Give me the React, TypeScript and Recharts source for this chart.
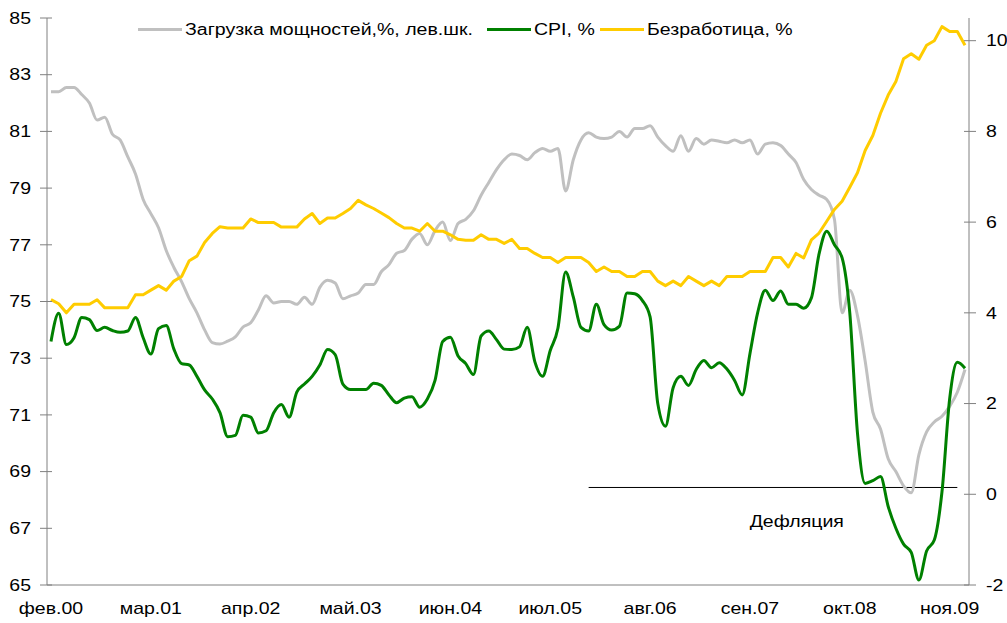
import { Legend, Line, LineChart, ReferenceLine, XAxis, YAxis } from "recharts";

const MONTH_NAMES = ["янв", "фев", "мар", "апр", "май", "июн", "июл", "авг", "сен", "окт", "ноя", "дек"];
// monthly, Feb 2000 .. Jan 2010
const MONTHS = Array.from({ length: 120 }, (_, i) => {
  const m = (1 + i) % 12;
  const y = 2000 + Math.floor((1 + i) / 12);
  return `${MONTH_NAMES[m]}.${String(y % 100).padStart(2, "0")}`;
});
const X_TICKS = ["фев.00", "мар.01", "апр.02", "май.03", "июн.04", "июл.05", "авг.06", "сен.07", "окт.08", "ноя.09"];
const LEFT_TICKS = [65, 67, 69, 71, 73, 75, 77, 79, 81, 83, 85];
const RIGHT_TICKS = [-2, 0, 2, 4, 6, 8, 10];

// capacity utilisation, % (left scale)
const UTIL = [
  82.4, 82.4, 82.55, 82.55, 82.3, 82.0, 81.4, 81.5, 80.9, 80.7, 80.1, 79.5,
  78.6, 78.1, 77.6, 76.8, 76.2, 75.7, 75.1, 74.6, 74.0, 73.55, 73.5, 73.6,
  73.75, 74.1, 74.25, 74.7, 75.2, 74.95, 75.0, 75.0, 74.9, 75.15, 74.9, 75.5,
  75.75, 75.65, 75.1, 75.2, 75.3, 75.6, 75.6, 76.05, 76.3, 76.7, 76.8, 77.2,
  77.4, 77.0, 77.5, 77.8, 77.15, 77.75, 77.9, 78.2, 78.75, 79.2, 79.65, 80.0,
  80.2, 80.15, 80.0, 80.25, 80.4, 80.3, 80.4, 78.9, 80.0, 80.7, 80.95, 80.8,
  80.75, 80.8, 81.0, 80.8, 81.1, 81.1, 81.2, 80.8, 80.5, 80.3, 80.85, 80.3,
  80.75, 80.55, 80.7, 80.65, 80.6, 80.7, 80.6, 80.7, 80.2, 80.55, 80.6, 80.5,
  80.2, 79.9, 79.3, 78.95, 78.75, 78.6, 77.9, 74.6, 75.4, 74.5, 72.9, 71.1,
  70.5, 69.45, 69.0, 68.5, 68.25, 69.6, 70.4, 70.75, 70.95, 71.3, 71.8, 72.6,
];

// CPI, % y/y (right scale)
const CPI = [
  3.37, 3.99, 3.3, 3.45, 3.9, 3.85, 3.61, 3.68, 3.61, 3.57, 3.6, 3.9,
  3.45, 3.09, 3.65, 3.72, 3.2, 2.88, 2.85, 2.6, 2.3, 2.1, 1.8, 1.27,
  1.3, 1.74, 1.7, 1.35, 1.4, 1.8, 1.98, 1.7, 2.25, 2.43, 2.6, 2.85,
  3.19, 3.08, 2.43, 2.31, 2.31, 2.31, 2.45, 2.4, 2.19, 2.02, 2.12, 2.15,
  1.92, 2.1, 2.51, 3.37, 3.46, 3.05, 2.88, 2.64, 3.49, 3.6, 3.41, 3.2,
  3.19, 3.25, 3.68, 2.92, 2.6, 3.17, 3.66, 4.9, 4.35, 3.68, 3.6, 4.19,
  3.74, 3.62, 3.7, 4.44, 4.42, 4.27, 3.91, 2.0, 1.5, 2.35, 2.6, 2.4,
  2.75, 2.95, 2.79, 2.9, 2.76, 2.51, 2.19, 3.1, 4.0, 4.5, 4.27, 4.48,
  4.19, 4.19, 4.1, 4.33, 5.3, 5.8, 5.5, 5.21, 4.0, 1.35, 0.24, 0.3,
  0.39, -0.27, -0.75, -1.1, -1.28, -1.89, -1.25, -1.01, 0.05, 2.1, 2.91, 2.78,
];

// unemployment, % (right scale)
const UNEMP = [
  4.29, 4.2, 4.0, 4.19, 4.19, 4.19, 4.29, 4.11, 4.11, 4.11, 4.11, 4.4,
  4.4, 4.5, 4.6, 4.5, 4.7, 4.8, 5.15, 5.25, 5.55, 5.75, 5.9, 5.87,
  5.87, 5.87, 6.07, 5.99, 5.99, 5.99, 5.89, 5.89, 5.89, 6.07, 6.19, 5.97,
  6.09, 6.09, 6.19, 6.3, 6.48, 6.38, 6.3, 6.2, 6.1, 5.97, 5.87, 5.87,
  5.8, 5.97, 5.8, 5.8, 5.72, 5.62, 5.6, 5.6, 5.72, 5.62, 5.62, 5.53,
  5.62, 5.42, 5.42, 5.31, 5.22, 5.22, 5.11, 5.22, 5.22, 5.22, 5.11, 4.91,
  5.01, 4.91, 4.91, 4.8, 4.8, 4.91, 4.91, 4.7, 4.6, 4.7, 4.6, 4.8,
  4.7, 4.6, 4.7, 4.6, 4.8, 4.8, 4.8, 4.91, 4.91, 4.91, 5.22, 5.22,
  5.01, 5.31, 5.21, 5.61, 5.76, 6.02, 6.28, 6.46, 6.77, 7.09, 7.58, 7.91,
  8.4, 8.8, 9.1, 9.6, 9.71, 9.59, 9.9, 10.0, 10.31, 10.2, 10.2, 9.9,
];

const DEFLATION_LEVEL = 0.15;
const DEFLATION_FROM = "дек.05";
const DEFLATION_TO = "дек.09";

const data = MONTHS.map((m, i) => ({ m, util: UTIL[i], cpi: CPI[i], unemp: UNEMP[i] }));

const FONT = "'Liberation Sans', Arial, sans-serif";
const STRETCH = 1.22;
const AXIS = "#808080";

function SText({ x, y, anchor = "start", children }: any) {
  return (
    <g transform={`translate(${x},${y}) scale(${STRETCH},1)`}>
      <text x={0} y={0} textAnchor={anchor} fontFamily={FONT} fontSize={16} fill="#000">
        {children}
      </text>
    </g>
  );
}

function LeftTick({ x, y, payload }: any) {
  const ax = x + 16;
  return (
    <g>
      <line x1={ax - 7} x2={ax + 5} y1={y} y2={y} stroke={AXIS} />
      <SText x={x} y={y + 5.7} anchor="end">{payload.value}</SText>
    </g>
  );
}

function RightTick({ x, y, payload }: any) {
  const ax = x - 17;
  return (
    <g>
      <line x1={ax - 5} x2={ax + 7} y1={y} y2={y} stroke={AXIS} />
      <SText x={x} y={y + 5.7} anchor="start">{payload.value}</SText>
    </g>
  );
}

function BottomTick({ x, y, payload }: any) {
  return <SText x={x} y={y + 21} anchor="middle">{payload.value}</SText>;
}

const LEGEND_ITEMS = [
  { label: "Загрузка мощностей,%, лев.шк.", color: "#c0c0c0", left: 138 },
  { label: "CPI, %", color: "#008000", left: 487 },
  { label: "Безработица, %", color: "#ffcc00", left: 600 },
];

function ChartLegend() {
  return (
    <div style={{ position: "relative", height: 22, width: 1007 }}>
      {LEGEND_ITEMS.map((it) => (
        <div key={it.label} style={{ position: "absolute", left: it.left, top: 0, height: 22 }}>
          <div style={{ position: "absolute", left: 0, top: 9, width: 44, height: 3, background: it.color }} />
          <div
            style={{
              position: "absolute",
              left: 47,
              top: 1,
              whiteSpace: "nowrap",
              fontFamily: FONT,
              fontSize: 16,
              lineHeight: "20px",
              color: "#000",
              transform: `scaleX(${STRETCH})`,
              transformOrigin: "left center",
            }}
          >
            {it.label}
          </div>
        </div>
      ))}
    </div>
  );
}

export default function App() {
  return (
    <div style={{ position: "absolute", left: 0, top: 0, width: 1007, height: 623, background: "#fff" }}>
      <LineChart width={1007} height={623} data={data} margin={{ top: 18, right: 0, bottom: 0, left: 0 }}>
        <XAxis
          dataKey="m"
          ticks={X_TICKS}
          interval={0}
          padding={{ left: 4, right: 4 }}
          height={38}
          axisLine={{ stroke: AXIS }}
          tickLine={false}
          tick={<BottomTick />}
        />
        <YAxis
          yAxisId="left"
          domain={[65, 85]}
          ticks={LEFT_TICKS}
          width={47}
          tickSize={7}
          tickMargin={9}
          axisLine={{ stroke: AXIS }}
          tickLine={false}
          tick={<LeftTick />}
        />
        <YAxis
          yAxisId="right"
          orientation="right"
          domain={[-2, 10.5]}
          ticks={RIGHT_TICKS}
          width={38}
          tickSize={7}
          tickMargin={10}
          axisLine={{ stroke: AXIS }}
          tickLine={false}
          tick={<RightTick />}
        />
        <Legend
          layout="horizontal"
          verticalAlign="middle"
          align="center"
          wrapperStyle={{ top: 19, left: 0, width: 1007 }}
          content={() => <ChartLegend />}
        />
        <ReferenceLine
          yAxisId="right"
          segment={[
            { x: DEFLATION_FROM, y: DEFLATION_LEVEL },
            { x: DEFLATION_TO, y: DEFLATION_LEVEL },
          ]}
          stroke="#000"
          strokeWidth={1}
          label={(p: any) => {
            const vb = p.viewBox || {};
            return <SText x={(vb.x ?? 589) + 161} y={(vb.y ?? 488) + 40}>Дефляция</SText>;
          }}
        />
        <Line
          yAxisId="left"
          type="monotone"
          dataKey="util"
          stroke="#c0c0c0"
          strokeWidth={3}
          dot={false}
          isAnimationActive={false}
        />
        <Line
          yAxisId="right"
          type="monotone"
          dataKey="cpi"
          stroke="#008000"
          strokeWidth={3}
          dot={false}
          isAnimationActive={false}
        />
        <Line
          yAxisId="right"
          type="linear"
          dataKey="unemp"
          stroke="#ffcc00"
          strokeWidth={3}
          strokeLinejoin="round"
          dot={false}
          isAnimationActive={false}
        />
      </LineChart>
    </div>
  );
}
